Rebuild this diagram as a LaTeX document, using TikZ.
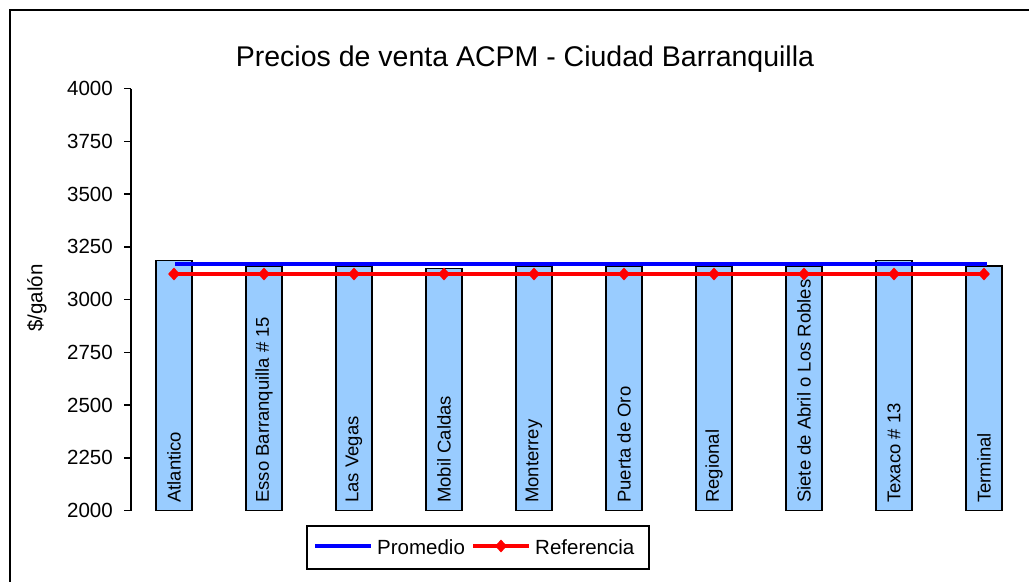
\documentclass[tikz,border=0pt]{standalone}
\usepackage{fontspec}
\setmainfont{Liberation Sans}
\usetikzlibrary{positioning,shapes.geometric}
\definecolor{barblue}{RGB}{153,204,255}

\begin{document}
\begin{tikzpicture}[x=1pt, y=-1pt,
    bar/.style={rectangle, draw, line width=1.5pt, fill=barblue, minimum width=36pt, inner sep=0pt, outer sep=0pt, anchor=south},
    barlabel/.style={rotate=90, anchor=west, inner sep=0pt, font=\fontsize{18.5}{20}\selectfont},
    ticklabel/.style={anchor=east, inner sep=0pt, font=\fontsize{20.5}{24}\selectfont},
    axisline/.style={line width=1.5pt},
    promline/.style={blue, line width=3.5pt},
    refline/.style={red, line width=4pt},
    refdot/.style={diamond, fill=red, inner sep=0pt, minimum width=12pt, minimum height=13pt},
    legtext/.style={anchor=base west, inner sep=0pt, font=\fontsize{20.5}{24}\selectfont}]
        \def\bargap{54pt}
        \def\barlift{7.5pt}

        \useasboundingbox (0,0) rectangle (1029,582);
        \draw[line width=2pt] (1029,10) -- (10,10) -- (10,582);

        \node[anchor=base, inner sep=0pt, font=\fontsize{28.5}{32}\selectfont] (title) at (525,66) {Precios de venta ACPM - Ciudad Barranquilla};
        \node[rotate=90, inner sep=0pt, font=\fontsize{20.5}{24}\selectfont] (ylab) at (37,298) {\$/galón};

        % value axis
        \draw[axisline] (131,88.5) -- (131,510.5);
        \draw[axisline] (124,88.5) -- (131,88.5);
        \draw[axisline] (124,141.25) -- (131,141.25);
        \draw[axisline] (124,194) -- (131,194);
        \draw[axisline] (124,246.75) -- (131,246.75);
        \draw[axisline] (124,299.5) -- (131,299.5);
        \draw[axisline] (124,352.25) -- (131,352.25);
        \draw[axisline] (124,405) -- (131,405);
        \draw[axisline] (124,457.75) -- (131,457.75);
        \draw[axisline] (124,510.5) -- (131,510.5);
        \node[ticklabel] (t4000) at (113,88.5) {4000};
        \node[ticklabel] (t3750) at (113,141.25) {3750};
        \node[ticklabel] (t3500) at (113,194) {3500};
        \node[ticklabel] (t3250) at (113,246.75) {3250};
        \node[ticklabel] (t3000) at (113,299.5) {3000};
        \node[ticklabel] (t2750) at (113,352.25) {2750};
        \node[ticklabel] (t2500) at (113,405) {2500};
        \node[ticklabel] (t2250) at (113,457.75) {2250};
        \node[ticklabel] (t2000) at (113,510.5) {2000};

        % bars
        \node[bar, minimum height=250pt] (b1) at (174,510.5) {};
        \node[bar, minimum height=244.3pt, right=\bargap of b1.south east, anchor=south west] (b2) {};
        \node[bar, minimum height=244.3pt, right=\bargap of b2.south east, anchor=south west] (b3) {};
        \node[bar, minimum height=242.2pt, right=\bargap of b3.south east, anchor=south west] (b4) {};
        \node[bar, minimum height=244pt, right=\bargap of b4.south east, anchor=south west] (b5) {};
        \node[bar, minimum height=244pt, right=\bargap of b5.south east, anchor=south west] (b6) {};
        \node[bar, minimum height=244pt, right=\bargap of b6.south east, anchor=south west] (b7) {};
        \node[bar, minimum height=244pt, right=\bargap of b7.south east, anchor=south west] (b8) {};
        \node[bar, minimum height=250pt, right=\bargap of b8.south east, anchor=south west] (b9) {};
        \node[bar, minimum height=244.5pt, right=\bargap of b9.south east, anchor=south west] (b10) {};

        \node[barlabel] (l1) at ([yshift=\barlift]b1.south) {Atlantico};
        \node[barlabel] (l2) at ([yshift=\barlift]b2.south) {Esso Barranquilla \# 15};
        \node[barlabel] (l3) at ([yshift=\barlift]b3.south) {Las Vegas};
        \node[barlabel] (l4) at ([yshift=\barlift]b4.south) {Mobil Caldas};
        \node[barlabel] (l5) at ([yshift=\barlift]b5.south) {Monterrey};
        \node[barlabel] (l6) at ([yshift=\barlift]b6.south) {Puerta de Oro};
        \node[barlabel] (l7) at ([yshift=\barlift]b7.south) {Regional};
        \node[barlabel] (l8) at ([yshift=\barlift]b8.south) {Siete de Abril o Los Robles};
        \node[barlabel] (l9) at ([yshift=\barlift]b9.south) {Texaco \# 13};
        \node[barlabel] (l10) at ([yshift=\barlift]b10.south) {Terminal};

        % Promedio
        \coordinate (pstart) at (175,264);
        \coordinate (pend) at (987,264);
        \draw[promline] (pstart) -- (pend);

        % Referencia
        \coordinate (refy) at (0,274);
        \node[refdot] (r1) at (b1 |- refy) {};
        \node[refdot] (r2) at (b2 |- refy) {};
        \node[refdot] (r3) at (b3 |- refy) {};
        \node[refdot] (r4) at (b4 |- refy) {};
        \node[refdot] (r5) at (b5 |- refy) {};
        \node[refdot] (r6) at (b6 |- refy) {};
        \node[refdot] (r7) at (b7 |- refy) {};
        \node[refdot] (r8) at (b8 |- refy) {};
        \node[refdot] (r9) at (b9 |- refy) {};
        \node[refdot] (r10) at (b10 |- refy) {};
        \draw[refline] (r1.center) -- (r10.center);

        % legend
        \node[draw, line width=1.5pt, minimum width=342pt, minimum height=43pt, inner sep=0pt] (leg) at (478,547.5) {};
        \coordinate (lp1) at (315,546);
        \coordinate (lp2) at (371,546);
        \draw[promline] (lp1) -- (lp2);
        \node[legtext] (lprom) at (377,554) {Promedio};
        \coordinate (lr1) at (473,546);
        \coordinate (lr2) at (529,546);
        \draw[refline] (lr1) -- (lr2);
        \node[refdot] (lrdot) at (501,546) {};
        \node[legtext] (lref) at (535,554) {Referencia};
    \end{tikzpicture}
\end{document}
